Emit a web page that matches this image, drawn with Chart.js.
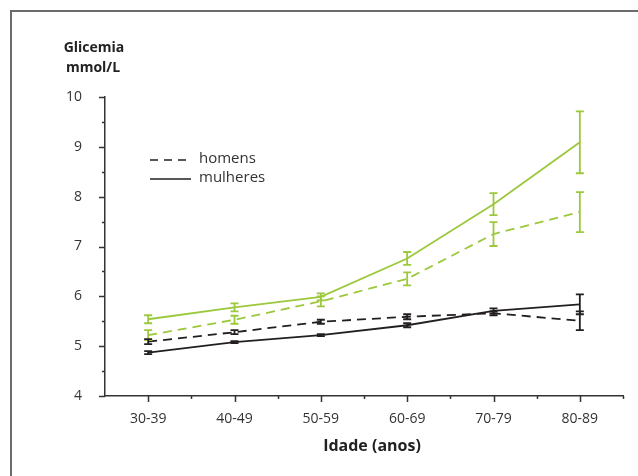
<!DOCTYPE html>
<html>
<head>
<meta charset="utf-8">
<script src="https://cdn.jsdelivr.net/npm/chart.js@4.4.0/dist/chart.umd.min.js"></script>
<style>
body{margin:0;background:#fff;}
canvas{display:block;}
</style>
</head>
<body>
<canvas id="mycanvas" width="638" height="476"></canvas>
<script>
// faixas etarias e valores (mmol/L)
var faixas = ['30-39', '40-49', '50-59', '60-69', '70-79', '80-89'];
var yTicks = [4, 5, 6, 7, 8, 9, 10];

var verdeMulheres = [5.54, 5.78, 5.99, 6.76, 7.85, 9.09];
var verdeMulheresErro = [0.08, 0.08, 0.07, 0.13, 0.22, 0.62];
var verdeHomens = [5.22, 5.53, 5.90, 6.35, 7.25, 7.69];
var verdeHomensErro = [0.10, 0.08, 0.10, 0.13, 0.24, 0.40];
var pretoHomens = [5.09, 5.28, 5.49, 5.59, 5.66, 5.51];
var pretoHomensErro = [0.05, 0.04, 0.04, 0.05, 0.04, 0.19];
var pretoMulheres = [4.87, 5.08, 5.22, 5.42, 5.71, 5.84];
var pretoMulheresErro = [0.03, 0.02, 0.02, 0.04, 0.05, 0.20];

var verde = '#9cc83c';
var preto = '#231f20';
var texto = '#333333';
var fonte = '"Open Sans", "Noto Sans", sans-serif';

function serie(label, data, erro, cor, dash) {
	return {
		label: label,
		data: data,
		erro: erro,
		borderColor: cor,
		backgroundColor: cor,
		borderWidth: 1.8,
		borderDash: dash,
		pointRadius: 0,
		tension: 0,
		fill: false
	};
}

var desenho = {
	id: 'desenho',
	beforeDraw: function(chart) {
		var ctx = chart.ctx;
		ctx.save();
		ctx.fillStyle = '#fff';
		ctx.fillRect(0, 0, chart.width, chart.height);
		ctx.strokeStyle = '#6b6b6b';
		ctx.lineWidth = 2;
		ctx.strokeRect(11, 11, chart.width + 20, chart.height + 20);
		ctx.restore();
	},
	afterDatasetsDraw: function(chart) {
		var ctx = chart.ctx;
		var x = chart.scales.x, y = chart.scales.y;
		ctx.save();
		chart.data.datasets.forEach(function(ds) {
			ctx.strokeStyle = ds.borderColor;
			ctx.lineWidth = 1.8;
			ds.data.forEach(function(v, i) {
				var px = x.getPixelForValue(i);
				var top = y.getPixelForValue(v + ds.erro[i]);
				var bot = y.getPixelForValue(v - ds.erro[i]);
				ctx.beginPath();
				ctx.moveTo(px, top); ctx.lineTo(px, bot);
				ctx.moveTo(px - 4, top); ctx.lineTo(px + 4, top);
				ctx.moveTo(px - 4, bot); ctx.lineTo(px + 4, bot);
				ctx.stroke();
			});
		});
		ctx.restore();
	},
	afterDraw: function(chart) {
		var ctx = chart.ctx;
		var x = chart.scales.x, y = chart.scales.y;
		var area = chart.chartArea;
		ctx.save();
		ctx.strokeStyle = texto;
		ctx.lineWidth = 1.5;
		ctx.beginPath();
		// marcas do eixo y
		for (var v = y.min; v <= y.max; v += 0.5) {
			var py = Math.round(y.getPixelForValue(v)) + 0.5;
			var len = (v % 1 === 0) ? 6 : 3;
			ctx.moveTo(area.left - len, py); ctx.lineTo(area.left, py);
		}
		// marcas do eixo x
		for (var i = 0; i < faixas.length; i++) {
			var px = Math.round(x.getPixelForValue(i)) + 0.5;
			ctx.moveTo(px, area.bottom); ctx.lineTo(px, area.bottom + 6);
			var pb = Math.round(x.getPixelForValue(i + 0.5)) + 0.5;
			ctx.moveTo(pb, area.bottom); ctx.lineTo(pb, area.bottom + 3);
		}
		ctx.stroke();

		// legenda
		ctx.strokeStyle = preto;
		ctx.lineWidth = 1.6;
		ctx.setLineDash([8, 6]);
		ctx.beginPath(); ctx.moveTo(150, 160); ctx.lineTo(192, 160); ctx.stroke();
		ctx.setLineDash([]);
		ctx.beginPath(); ctx.moveTo(150, 179); ctx.lineTo(191, 179); ctx.stroke();
		ctx.fillStyle = texto;
		ctx.font = '15px ' + fonte;
		ctx.textAlign = 'left';
		ctx.textBaseline = 'middle';
		ctx.fillText('homens', 199, 159);
		ctx.fillText('mulheres', 199, 178);

		// titulos
		ctx.fillStyle = '#222';
		ctx.font = 'bold 14px ' + fonte;
		ctx.textAlign = 'center';
		ctx.fillText('Glicemia', 94, 48);
		ctx.fillText('mmol/L', 93, 68);
		ctx.font = 'bold 16px ' + fonte;
		ctx.fillText('Idade (anos)', 372, 446);
		ctx.restore();
	}
};

var ctx = document.getElementById('mycanvas');

var grafico = new Chart(ctx, {
	type: 'line',
	data: {
		labels: faixas,
		datasets: [
			serie('verde mulheres', verdeMulheres, verdeMulheresErro, verde, []),
			serie('verde homens', verdeHomens, verdeHomensErro, verde, [9, 6]),
			serie('preto homens', pretoHomens, pretoHomensErro, preto, [9, 6]),
			serie('preto mulheres', pretoMulheres, pretoMulheresErro, preto, [])
		]
	},
	options: {
		responsive: false,
		animation: false,
		layout: { padding: { top: 97, right: 15, left: 0, bottom: 0 } },
		plugins: {
			legend: { display: false },
			tooltip: { enabled: false }
		},
		scales: {
			x: {
				offset: true,
				grid: { display: false },
				border: { display: true, color: texto, width: 1.5 },
				ticks: { padding: 7, color: texto, font: { family: fonte, size: 14 } },
				afterFit: function(scale) { scale.height = 80; }
			},
			y: {
				min: 4,
				max: 10,
				grid: { display: false },
				border: { display: true, color: texto, width: 1.5 },
				ticks: {
					stepSize: 1,
					padding: 15,
					color: texto,
					font: { family: fonte, size: 14 },
					callback: function(v) { return yTicks.indexOf(v) >= 0 ? v : ''; }
				},
				afterFit: function(scale) { scale.width = 105; }
			}
		}
	},
	plugins: [desenho]
});
</script>
</body>
</html>
